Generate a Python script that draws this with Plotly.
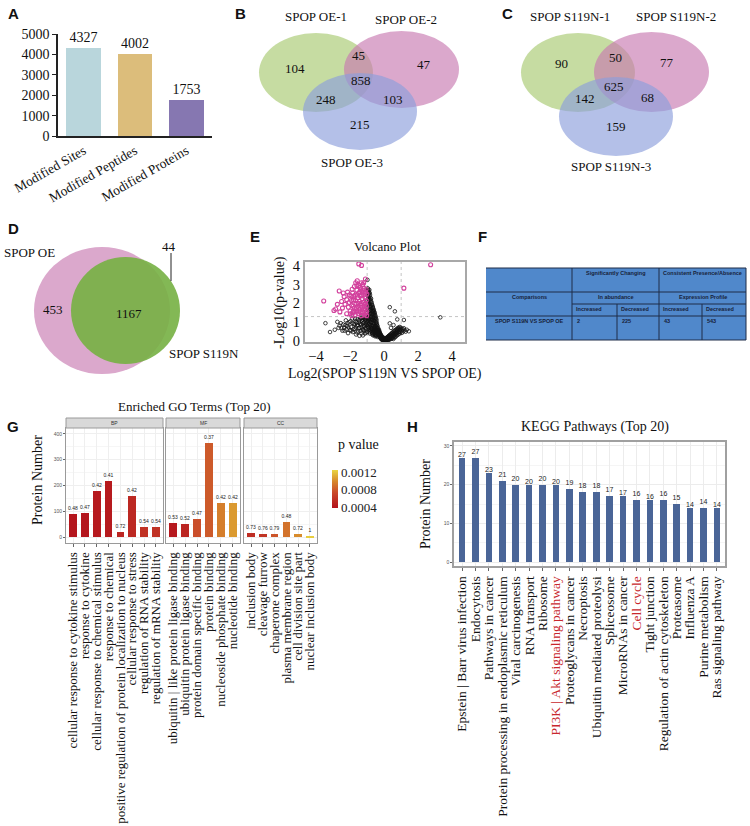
import plotly.graph_objects as go

W, H = 750, 826
def fx(px): return px / W
def fy(py): return 1 - py / H

SERIF = "Liberation Serif"
SANS = "Liberation Sans"

# ---------------- data ----------------
# Panel A
a_categories = ["Modified Sites", "Modified Peptides", "Modified Proteins"]
a_values = [4327, 4002, 1753]
a_colors = ["#b9d6dc", "#dcbd7b", "#8677b1"]

# Panel B / C (regions: only1, only2, only3, 1&2, 1&3, 2&3, all)
b_set_labels = ["SPOP OE-1", "SPOP OE-2", "SPOP OE-3"]
b_region_counts = [104, 47, 215, 45, 248, 103, 858]
c_set_labels = ["SPOP S119N-1", "SPOP S119N-2", "SPOP S119N-3"]
c_region_counts = [90, 77, 159, 50, 142, 68, 625]

# Panel D
d_set_labels = ["SPOP OE", "SPOP S119N"]
d_region_counts = [453, 1167, 44]

# Panel E (volcano)
volcano_ns_points = [
    (0.00,0.01),(0.03,0.04),(-0.02,0.07),(0.06,0.02),(-0.05,0.03),(0.08,0.06),(-0.08,0.10),(0.10,0.01),
    (-0.10,0.05),(0.12,0.09),(-0.12,0.14),(0.14,0.03),(-0.14,0.08),(0.16,0.12),(-0.16,0.18),(0.18,0.06),
    (-0.18,0.11),(0.20,0.15),(-0.20,0.24),(0.22,0.04),(-0.22,0.16),(0.24,0.10),(-0.24,0.29),(0.26,0.18),
    (-0.26,0.20),(0.28,0.07),(-0.28,0.34),(0.30,0.13),(-0.30,0.26),(0.32,0.21),(-0.32,0.40),(0.34,0.09),
    (-0.34,0.31),(0.36,0.16),(-0.36,0.45),(0.38,0.24),(-0.38,0.22),(0.40,0.12),(-0.40,0.52),(0.42,0.28),
    (-0.42,0.36),(0.44,0.19),(-0.44,0.60),(0.02,0.10),(-0.04,0.15),(0.05,0.12),(-0.07,0.19),(0.09,0.14),
    (-0.11,0.24),(0.13,0.17),
    (-0.01,0.03),(0.04,0.08),(-0.06,0.05),(0.07,0.11),(-0.09,0.13),(0.11,0.07),(-0.13,0.19),(0.15,0.14),
    (-0.15,0.23),(0.17,0.09),(-0.17,0.27),(0.19,0.19),(-0.19,0.32),(0.21,0.22),(-0.21,0.35),(0.23,0.14),
    (-0.23,0.39),(0.25,0.25),(-0.25,0.43),(0.27,0.27),(-0.27,0.47),(0.29,0.16),(-0.29,0.55),(0.31,0.30),
    (-0.31,0.60),(0.35,0.33),(-0.35,0.68),(0.39,0.36),(-0.39,0.80),(0.43,0.40),(-0.43,0.92),(0.47,0.42),
    (0.51,0.47),(0.57,0.52),(0.61,0.56),(0.67,0.58),(0.73,0.63),(0.79,0.68),(0.85,0.72),(0.92,0.75),
    (-0.46,0.28),(-0.47,0.70),(-0.48,0.45),(-0.49,0.95),(-0.50,0.33),(-0.51,0.62),(-0.52,1.05),(-0.53,0.80),
    (-0.54,0.40),(-0.55,1.20),(-0.56,0.55),(-0.57,0.92),(-0.58,1.30),(-0.59,0.70),(-0.60,0.38),(-0.61,1.10),
    (-0.62,1.45),(-0.63,0.85),(-0.64,0.50),(-0.65,1.25),(-0.66,1.60),(-0.67,0.98),(-0.68,0.62),(-0.69,1.40),
    (-0.70,1.75),(-0.71,0.45),(-0.72,1.12),(-0.73,1.55),(-0.74,0.78),(-0.75,1.90),(-0.76,1.30),(-0.77,0.55),
    (-0.78,1.68),(-0.79,1.02),(-0.80,2.05),(-0.81,0.72),(-0.82,1.45),(-0.83,1.85),(-0.84,0.40),(-0.85,2.20),
    (-0.86,1.20),(-0.87,0.90),(-0.88,1.62),(-0.89,2.35),(-0.90,0.60),(-0.91,1.95),(-0.92,1.35),(-0.93,2.50),
    (-0.94,1.05),(-0.95,0.75),(-0.96,1.78),(-0.97,2.65),(-0.98,1.50),(-0.99,2.15),(-0.99,0.50),(-0.96,2.80),
    (-0.92,2.70),(-0.98,3.25),(-0.94,2.25),(-0.88,2.00),(-0.83,2.45),(-0.78,2.15),(-0.72,1.95),(-0.66,1.80),
    (-0.60,1.65),(-0.55,1.50),(-0.50,1.30),(-0.45,1.10),(-0.42,0.85),(-0.40,0.72),(-0.38,0.62),(-0.36,0.58),
    (-0.33,0.52),(-0.30,0.46),(-0.27,0.40),(-0.46,0.50),(-0.52,0.25),(-0.58,0.48),(-0.64,0.30),(-0.70,0.35),
    (-0.76,0.65),(-0.82,0.58),(-0.86,0.48),(-0.93,0.85),(-0.97,1.25),(-0.90,1.15),(-0.84,1.05),(-0.80,1.30),
    (-0.74,1.00),(-0.68,0.80),(-0.62,0.95),(-0.56,0.72),(-0.53,0.58),(-0.49,0.80),
    (-0.45,1.00),(-0.47,1.18),(-0.51,1.22),(-0.53,1.38),(-0.57,1.42),(-0.59,1.55),(-0.63,1.58),(-0.65,1.72),
    (-0.67,1.48),(-0.69,1.88),(-0.71,1.62),(-0.73,2.05),(-0.75,1.45),(-0.77,2.25),(-0.79,1.82),(-0.81,2.30),
    (-0.83,1.62),(-0.85,2.55),(-0.87,1.95),(-0.89,2.60),(-0.91,2.25),(-0.93,1.68),(-0.95,2.40),(-0.97,2.05),
    (-0.99,2.72),(-0.87,2.72),(-0.91,2.52),(-0.95,1.95),(-0.63,1.20),(-0.69,1.10),(-0.75,1.18),(-0.81,1.12),
    (-0.87,1.38),(-0.93,1.15),(-0.97,0.95),(-0.91,0.70),(-0.85,0.80),(-0.79,0.85),(-0.73,0.70),(-0.67,0.40),
    (-0.61,0.58),(-0.55,0.32),(-0.49,0.62),(-0.43,0.48),(-0.37,0.40),(-0.31,0.33),
    (0.46,0.14),(0.48,0.30),(0.50,0.20),(0.52,0.36),(0.54,0.11),(0.56,0.26),(0.58,0.40),(0.60,0.18),
    (0.62,0.33),(0.64,0.45),(0.66,0.22),(0.68,0.38),(0.70,0.50),(0.72,0.28),(0.74,0.42),(0.76,0.55),
    (0.78,0.32),(0.80,0.60),(0.82,0.46),(0.84,0.36),(0.86,0.66),(0.88,0.50),(0.90,0.40),(0.93,0.62),
    (0.96,0.48),(0.99,0.70),(1.02,0.56),(1.05,0.44),(1.08,0.64),(1.12,0.52),(1.16,0.68),(1.20,0.58),
    (1.26,0.50),(1.33,0.60),(1.45,0.52),(0.33,1.80),(0.63,1.58),(0.33,0.94),(0.77,1.15),(1.16,1.12),
    (3.30,1.26),(0.40,0.70),(0.55,0.85),
    (-1.03,1.22),(-1.05,0.45),(-1.07,0.95),(-1.10,0.70),(-1.12,1.15),(-1.15,0.55),(-1.18,1.00),(-1.20,0.80),
    (-1.23,1.25),(-1.26,0.62),(-1.30,1.05),(-1.33,0.40),(-1.36,0.88),(-1.40,1.20),(-1.44,0.70),(-1.48,0.98),
    (-1.52,0.52),(-1.56,1.15),(-1.60,0.82),(-1.65,0.35),(-1.68,1.05),(-1.72,0.65),(-1.78,0.92),(-1.84,0.48),
    (-1.88,1.20),(-1.94,0.75),(-2.00,0.58),(-2.05,1.00),(-2.12,0.42),(-2.18,0.80),(-2.25,1.10),(-2.32,0.55),
    (-2.40,0.88),(-2.50,0.68),(-2.62,0.82),(-2.75,1.02),(-2.90,0.60),(-3.45,0.95),(-3.18,0.48),(-1.08,1.28),
    (-1.25,0.30),(-1.45,0.28),
    (-1.02,0.85),(-1.04,1.05),(-1.06,0.62),(-1.09,1.18),(-1.11,0.88),(-1.13,0.40),(-1.16,0.78),(-1.19,1.22),
    (-1.22,0.58),(-1.24,0.95),(-1.28,1.15),(-1.32,0.72),(-1.35,1.25),(-1.38,0.55),(-1.42,0.92),(-1.46,1.10),
    (-1.50,0.68),(-1.54,0.85),(-1.58,0.45),(-1.62,0.98),(-1.66,0.72),(-1.70,1.18),(-1.74,0.88),(-1.80,0.62),
    (-1.86,0.95),(-1.92,0.55),(-1.98,1.05),(-2.08,0.72),(-2.15,0.95),(-2.22,0.62),(-2.28,0.85),(-2.35,0.70),
    (-2.45,0.55),(-2.55,0.95),(-2.68,0.70),
]
volcano_sig_points = [
    (-3.55,2.13),(-2.95,1.62),(-2.85,1.70),(-2.64,2.66),(-2.35,2.36),(-2.50,2.10),(-2.30,1.95),(-2.20,2.20),
    (-2.10,1.80),(-2.05,2.05),(-2.00,1.60),(-1.95,2.40),(-1.90,1.90),(-1.85,2.55),(-1.85,1.50),(-1.80,2.20),
    (-1.75,1.75),(-1.70,2.45),(-1.70,1.40),(-1.67,3.10),(-1.65,2.00),(-1.60,2.70),(-1.60,1.60),(-1.55,2.30),
    (-1.55,1.85),(-1.50,2.55),(-1.50,1.45),(-1.49,4.10),(-1.45,2.10),(-1.45,1.70),(-1.42,2.85),(-1.40,2.40),
    (-1.40,1.55),(-1.37,2.72),(-1.35,2.00),(-1.35,1.35),(-1.33,4.02),(-1.30,2.60),(-1.30,1.80),(-1.28,2.25),
    (-1.25,1.50),(-1.25,3.00),(-1.22,2.05),(-1.20,1.65),(-1.20,2.45),(-1.18,2.80),(-1.15,1.40),(-1.15,1.95),
    (-1.12,2.30),(-1.10,3.30),(-1.10,1.70),(-1.08,2.60),(-1.06,1.50),(-1.05,2.15),(-1.04,1.85),(-1.03,1.35),
    (-1.02,2.50),(-1.90,1.35),(-2.20,1.45),(-2.60,1.55),(-2.45,1.75),(-1.75,2.90),(-1.60,2.95),(-1.20,3.10),
    (-2.15,2.60),(-1.80,1.60),(1.16,2.81),(2.73,4.05),
    (-1.98,1.45),(-1.92,2.15),(-1.82,1.85),(-1.78,2.35),(-1.72,1.55),(-1.68,2.15),(-1.62,1.75),(-1.58,2.45),
    (-1.52,2.00),(-1.48,1.60),(-1.44,2.60),(-1.38,1.90),(-1.32,2.45),(-1.28,1.55),(-1.24,2.70),(-1.18,1.85),
    (-1.14,2.55),(-1.09,2.00),(-1.06,2.75),(-1.04,1.60),(-1.48,2.95),(-1.33,3.10),(-2.75,1.95),(-2.40,2.55),
    (-2.05,2.45),(-1.88,2.75),(-1.58,3.20),
]
volcano_fc_cut = [-1, 1]
volcano_p_cut = 1.3

# Panel F (table)
f_header_top = ["Significantly Changing", "Consistent Presence/Absence"]
f_header_mid = ["Comparisons", "In abundance", "Expression Profile"]
f_header_sub = ["Increased", "Decreased", "Increased", "Decreased"]
f_row_label = "SPOP S119N VS SPOP OE"
f_row_values = [2, 225, 43, 543]

# Panel G (GO)
go_bp_terms = ["cellular response to cytokine stimulus", "response to cytokine",
               "cellular response to chemical stimulus", "response to chemical",
               "positive regulation of protein localization to nucleus", "cellular response to stress",
               "regulation of RNA stability", "regulation of mRNA stability"]
go_bp_counts = [89, 93, 179, 217, 19, 159, 39, 39]
go_bp_ratio = ["0.48", "0.47", "0.42", "0.41", "0.72", "0.42", "0.54", "0.54"]
go_bp_p = [0.00040, 0.00040, 0.00042, 0.00043, 0.00050, 0.00052, 0.00058, 0.00058]

go_mf_terms = ["ubiquitin | like protein ligase binding", "ubiquitin protein ligase binding",
               "protein domain specific binding", "protein binding",
               "nucleoside phosphate binding", "nucleotide binding"]
go_mf_counts = [54, 50, 70, 365, 132, 132]
go_mf_ratio = ["0.53", "0.52", "0.47", "0.37", "0.42", "0.42"]
go_mf_p = [0.00042, 0.00050, 0.00075, 0.00080, 0.00095, 0.00105]

go_cc_terms = ["inclusion body", "cleavage furrow", "chaperone complex",
               "plasma membrane region", "cell division site part", "nuclear inclusion body"]
go_cc_counts = [16, 12, 11, 58, 12, 4]
go_cc_ratio = ["0.73", "0.76", "0.79", "0.48", "0.72", "1"]
go_cc_p = [0.00055, 0.00060, 0.00078, 0.00090, 0.00100, 0.00122]

# Panel H (KEGG)
kegg_terms = ["Epstein | Barr virus infection", "Endocytosis", "Pathways in cancer",
              "Protein processing in endoplasmic reticulum", "Viral carcinogenesis", "RNA transport",
              "Ribosome", "PI3K | Akt signaling pathway", "Proteoglycans in cancer", "Necroptosis",
              "Ubiquitin mediated proteolysi", "Spliceosome", "MicroRNAs in cancer", "Cell cycle",
              "Tight junction", "Regulation of actin cytoskeleton", "Proteasome", "Influenza A",
              "Purine metabolism", "Ras signaling pathway"]
kegg_counts = [27, 27, 23, 21, 20, 20, 20, 20, 19, 18, 18, 17, 17, 16, 16, 16, 15, 14, 14, 14]
kegg_highlight = ["PI3K | Akt signaling pathway", "Cell cycle"]

# ---------------- figure ----------------
fig = go.Figure()

# A bars
fig.add_trace(go.Bar(
    x=list(range(len(a_categories))), y=a_values, width=0.68,
    marker=dict(color=a_colors, line=dict(width=0)),
    text=[str(v) for v in a_values], textposition="outside", constraintext="none",
    textfont=dict(family=SERIF, size=14, color="#111"),
    outsidetextfont=dict(family=SERIF, size=14, color="#111"), cliponaxis=False,
    xaxis="x", yaxis="y", hoverinfo="skip"))

# E volcano
fig.add_trace(go.Scatter(
    x=[p[0] for p in volcano_ns_points], y=[p[1] for p in volcano_ns_points], mode="markers",
    marker=dict(symbol="circle-open", size=3.6, color="#111", line=dict(width=0.8)),
    xaxis="x2", yaxis="y2", hoverinfo="skip"))
fig.add_trace(go.Scatter(
    x=[p[0] for p in volcano_sig_points], y=[p[1] for p in volcano_sig_points], mode="markers",
    marker=dict(symbol="circle-open", size=4, color="#d2409c", line=dict(width=1.1)),
    xaxis="x2", yaxis="y2", hoverinfo="skip"))

# G GO facets
for terms, counts, ratio, pv, ax in [
        (go_bp_terms, go_bp_counts, go_bp_ratio, go_bp_p, "3"),
        (go_mf_terms, go_mf_counts, go_mf_ratio, go_mf_p, "4"),
        (go_cc_terms, go_cc_counts, go_cc_ratio, go_cc_p, "5")]:
    fig.add_trace(go.Bar(
        x=list(range(len(terms))), y=counts, width=0.65,
        marker=dict(color=pv, coloraxis="coloraxis", line=dict(width=0)),
        text=ratio, textposition="outside", constraintext="none", cliponaxis=False,
        textfont=dict(family=SANS, size=5, color="#222"),
        outsidetextfont=dict(family=SANS, size=5, color="#222"),
        xaxis="x" + ax, yaxis="y" + ax, hoverinfo="skip"))

# H KEGG
fig.add_trace(go.Bar(
    x=list(range(len(kegg_terms))), y=kegg_counts, width=0.5,
    marker=dict(color="#4a6597", line=dict(width=0)),
    text=[str(v) for v in kegg_counts], textposition="outside", constraintext="none", cliponaxis=False,
    textfont=dict(family=SANS, size=7, color="#222"),
    outsidetextfont=dict(family=SANS, size=7, color="#222"),
    xaxis="x6", yaxis="y6", hoverinfo="skip"))

kegg_ticktext = [("<span style='color:#c8282d'>%s</span>" % t) if t in kegg_highlight else t
                 for t in kegg_terms]

# ---------------- axes ----------------
go_border = dict(showline=True, mirror=True, linecolor="#9a9a9a", linewidth=1, automargin=False)
go_y_common = dict(range=[-23, 423], tickvals=[0, 100, 200, 300, 400], showgrid=True,
                   gridcolor="#efefef", gridwidth=0.6, zeroline=False,
                   minor=dict(dtick=50, showgrid=True, gridcolor="#f6f6f6"))
go_x_common = dict(tickangle=-90, tickfont=dict(family=SERIF, size=13, color="#111"),
                   ticks="outside", ticklen=3, tickcolor="#666", showgrid=True,
                   gridcolor="#efefef", gridwidth=0.6, zeroline=False)

fig.update_layout(
    width=W, height=H, autosize=False,
    margin=dict(l=0, r=0, t=0, b=0, pad=0, autoexpand=False),
    paper_bgcolor="white", plot_bgcolor="white", showlegend=False,
    bargap=0,
    # A
    xaxis=dict(domain=[fx(58), fx(212)], range=[-0.5, 2.5], tickvals=[0, 1, 2], ticktext=a_categories,
               tickangle=-30, tickfont=dict(family=SERIF, size=13.5, color="#111"), showline=True,
               linecolor="#222", linewidth=1.5, ticks="", showgrid=False, zeroline=False, anchor="y",
               automargin=False),
    yaxis=dict(domain=[fy(136), fy(34)], range=[0, 5000], dtick=1000, ticks="outside", ticklen=4,
               tickwidth=1.2, tickcolor="#222", showline=True, linecolor="#222", linewidth=1.5,
               tickfont=dict(family=SERIF, size=14, color="#111"), showgrid=False, zeroline=False,
               anchor="x", automargin=False),
    # E
    xaxis2=dict(domain=[fx(305), fx(465)], range=[-4.65, 4.75], tickvals=[-4, -2, 0, 2, 4],
                tickfont=dict(family=SERIF, size=14.5, color="#111"), showline=True, mirror=True,
                linecolor="#a8a8a8", linewidth=2, ticks="", showgrid=False, zeroline=False, anchor="y2",
                automargin=False),
    yaxis2=dict(domain=[fy(342), fy(262)], range=[-0.05, 4.2], tickvals=[0, 1, 2, 3, 4],
                tickfont=dict(family=SERIF, size=14.5, color="#111"), showline=True, mirror=True,
                linecolor="#a8a8a8", linewidth=2, ticks="", showgrid=False, zeroline=False, anchor="x2",
                automargin=False),
    # G
    xaxis3=dict(domain=[fx(66), fx(163)], range=[-0.6, 7.6], tickvals=list(range(8)),
                ticktext=go_bp_terms, anchor="y3", **go_x_common, **go_border),
    yaxis3=dict(domain=[fy(543), fy(428)], anchor="x3", ticks="outside", ticklen=2, tickcolor="#666",
                tickfont=dict(family=SANS, size=5, color="#555"), **go_y_common, **go_border),
    xaxis4=dict(domain=[fx(166), fx(240)], range=[-0.6, 5.6], tickvals=list(range(6)),
                ticktext=go_mf_terms, anchor="y4", **go_x_common, **go_border),
    yaxis4=dict(domain=[fy(543), fy(428)], anchor="x4", showticklabels=False, **go_y_common, **go_border),
    xaxis5=dict(domain=[fx(244), fx(317)], range=[-0.6, 5.6], tickvals=list(range(6)),
                ticktext=go_cc_terms, anchor="y5", **go_x_common, **go_border),
    yaxis5=dict(domain=[fy(543), fy(428)], anchor="x5", showticklabels=False, **go_y_common, **go_border),
    # H
    xaxis6=dict(domain=[fx(454), fx(725)], range=[-0.6, 19.6], tickvals=list(range(len(kegg_terms))),
                ticktext=kegg_ticktext, tickangle=-90, tickfont=dict(family=SERIF, size=13.5, color="#111"),
                ticks="outside", ticklen=3, tickcolor="#666", showgrid=True, gridcolor="#ececec",
                gridwidth=0.6, zeroline=False, showline=True, mirror=True, linecolor="#a0a0a0",
                linewidth=1.5, anchor="y6", automargin=False),
    yaxis6=dict(domain=[fy(566), fy(442)], range=[-1.03, 31.03], tickvals=[0, 10, 20, 30],
                tickfont=dict(family=SANS, size=5, color="#555"), ticks="outside", ticklen=2,
                tickcolor="#666", showgrid=True, gridcolor="#ececec", gridwidth=0.6, zeroline=False,
                minor=dict(dtick=5, showgrid=True, gridcolor="#f5f5f5"),
                showline=True, mirror=True, linecolor="#a0a0a0", linewidth=1.5, anchor="x6",
                automargin=False),
    coloraxis=dict(
        colorscale=[[0, "#b3121c"], [0.4, "#c9482a"], [0.7, "#d7872b"], [1, "#e9d541"]],
        cmin=0.000377, cmax=0.001246,
        colorbar=dict(x=fx(332), xanchor="left", y=fy(470), yanchor="top", len=38, lenmode="pixels",
                      thickness=6, thicknessmode="pixels", tickvals=[0.0004, 0.0008, 0.0012],
                      ticktext=["0.0004", "0.0008", "0.0012"], ticks="", outlinewidth=0,
                      tickfont=dict(family=SERIF, size=13, color="#222"), xpad=0, ypad=0,
                      title=dict(text=""))),
)

# ---------------- shapes ----------------
shapes = []

def ell(x0, y0, x1, y1, fill, line_w=0):
    shapes.append(dict(type="circle", xref="paper", yref="paper", x0=fx(x0), x1=fx(x1),
                       y0=fy(y1), y1=fy(y0), fillcolor=fill, line=dict(width=line_w), layer="above"))

GREEN = "rgba(168,201,112,0.65)"
PINK = "rgba(200,122,177,0.65)"
BLUE = "rgba(140,158,220,0.65)"
# B
ell(259, 33, 373, 112, GREEN)
ell(344, 31, 459, 108, PINK)
ell(303, 73, 417, 150, BLUE)
# C
ell(521, 33, 635, 112, GREEN)
ell(594, 32, 709, 112, PINK)
ell(559, 77, 673, 156, BLUE)
# D
ell(34, 247, 170, 374, "rgb(219,168,204)")
ell(71, 257, 180, 364, "rgba(118,176,66,0.9)")
shapes.append(dict(type="line", xref="paper", yref="paper", x0=fx(171), x1=fx(171), y0=fy(253),
                   y1=fy(281), line=dict(color="#222", width=1)))

# E threshold lines
for xv in volcano_fc_cut:
    shapes.append(dict(type="line", xref="x2", yref="y2 domain", x0=xv, x1=xv, y0=0, y1=1,
                       line=dict(color="#c4c4c4", width=1, dash="dot"), layer="below"))
shapes.append(dict(type="line", xref="x2 domain", yref="y2", x0=0, x1=1, y0=volcano_p_cut,
                   y1=volcano_p_cut, line=dict(color="#c4c4c4", width=1, dash="dot"), layer="below"))

# F table
c0, c1, c2, c3, c4, c5 = 486, 572, 617, 659, 702, 746
r0, r1, r2, r3, r4 = 268, 292, 304, 316, 340
shapes.append(dict(type="rect", xref="paper", yref="paper", x0=fx(c0), x1=fx(c5), y0=fy(r4), y1=fy(r0),
                   fillcolor="#5088cb", line=dict(width=0), layer="above"))
TL = dict(color="#1e2c48", width=1)
def hline(xa, xb, yy):
    shapes.append(dict(type="line", xref="paper", yref="paper", x0=fx(xa), x1=fx(xb), y0=fy(yy), y1=fy(yy),
                       line=TL, layer="above"))
def vline(xx, ya, yb):
    shapes.append(dict(type="line", xref="paper", yref="paper", x0=fx(xx), x1=fx(xx), y0=fy(ya), y1=fy(yb),
                       line=TL, layer="above"))
hline(c0, c5, r0); hline(c0, c5, r1); hline(c1, c5, r2); hline(c0, c5, r3); hline(c0, c5, r4)
vline(c1, r0, r4); vline(c3, r0, r4); vline(c2, r2, r4); vline(c4, r2, r4); vline(c5, r0, r4)

# G strips
for xa, xb in [(66, 163), (166, 240), (244, 317)]:
    shapes.append(dict(type="rect", xref="paper", yref="paper", x0=fx(xa), x1=fx(xb), y0=fy(428),
                       y1=fy(418), fillcolor="#d9d9d9", line=dict(color="#9a9a9a", width=1)))

fig.update_layout(shapes=shapes)

# ---------------- annotations ----------------
ann = []
def txt(x, y, s, size=13, family=SERIF, color="#111", angle=0, xanchor="center", bold=False):
    ann.append(dict(x=fx(x), y=fy(y), xref="paper", yref="paper", text=("<b>%s</b>" % s) if bold else s,
                    showarrow=False, font=dict(family=family, size=size, color=color), textangle=angle,
                    xanchor=xanchor, yanchor="middle"))

# panel letters
for lab, x, y in [("A", 13, 14), ("B", 240, 13), ("C", 507, 13), ("D", 13, 228), ("E", 255, 236),
                  ("F", 482, 236), ("G", 13, 426), ("H", 412, 426)]:
    txt(x, y, lab, size=15, family=SANS, color="#111", bold=True)

# B texts
txt(316, 17, b_set_labels[0]); txt(406, 19, b_set_labels[1]); txt(352, 163, b_set_labels[2])
for (x, y), v in zip([(295, 69), (424, 64), (360, 124), (358, 55), (326, 99), (393, 99), (361, 80)],
                     b_region_counts):
    txt(x, y, str(v))
# C texts
txt(570, 17, c_set_labels[0]); txt(676, 17, c_set_labels[1]); txt(611, 166, c_set_labels[2])
for (x, y), v in zip([(561, 63), (667, 62), (616, 127), (615, 58), (585, 98), (647, 97), (614, 87)],
                     c_region_counts):
    txt(x, y, str(v))
# D texts
txt(29, 253, d_set_labels[0]); txt(204, 353, d_set_labels[1])
txt(53, 309, str(d_region_counts[0])); txt(129, 313, str(d_region_counts[1]))
txt(169, 246, str(d_region_counts[2]))

# E texts
txt(387, 246, "Volcano Plot", size=13)
txt(385, 374, "Log2(SPOP S119N VS SPOP OE)", size=14)
txt(280, 303, "-Log10(p-value)", size=14, angle=-90)

# F texts
TF = dict(size=5.5, family=SANS, color="#17223a", bold=True)
txt((c1 + c3) / 2, 273, f_header_top[0], **TF)
txt((c3 + c5) / 2, 273, f_header_top[1], **TF)
txt((c0 + c1) / 2, 297, f_header_mid[0], **TF)
txt((c1 + c3) / 2, 297, f_header_mid[1], **TF)
txt((c3 + c5) / 2, 297, f_header_mid[2], **TF)
for xx, s in zip([c1, c2, c3, c4], f_header_sub):
    txt(xx + 2, 309, s, xanchor="left", **TF)
txt((c0 + c1) / 2, 321, f_row_label, **TF)
for xx, v in zip([c1, c2, c3, c4], f_row_values):
    txt(xx + 3, 321, str(v), xanchor="left", **TF)

# G texts
txt(194, 407, "Enriched GO Terms (Top 20)", size=13)
txt(38, 480, "Protein Number", size=14, angle=-90)
for (xa, xb), s in zip([(66, 163), (166, 240), (244, 317)], ["BP", "MF", "CC"]):
    txt((xa + xb) / 2, 423, s, size=5, family=SANS, color="#333")
txt(358, 445, "p value", size=14)

# H texts
txt(595, 427, "KEGG Pathways (Top 20)", size=14)
txt(425, 504, "Protein Number", size=14, angle=-90)

fig.update_layout(annotations=ann)

fig.write_html("out.html", config={"displayModeBar": False},
               post_script="document.body.style.margin='0';document.body.style.overflow='hidden';")
